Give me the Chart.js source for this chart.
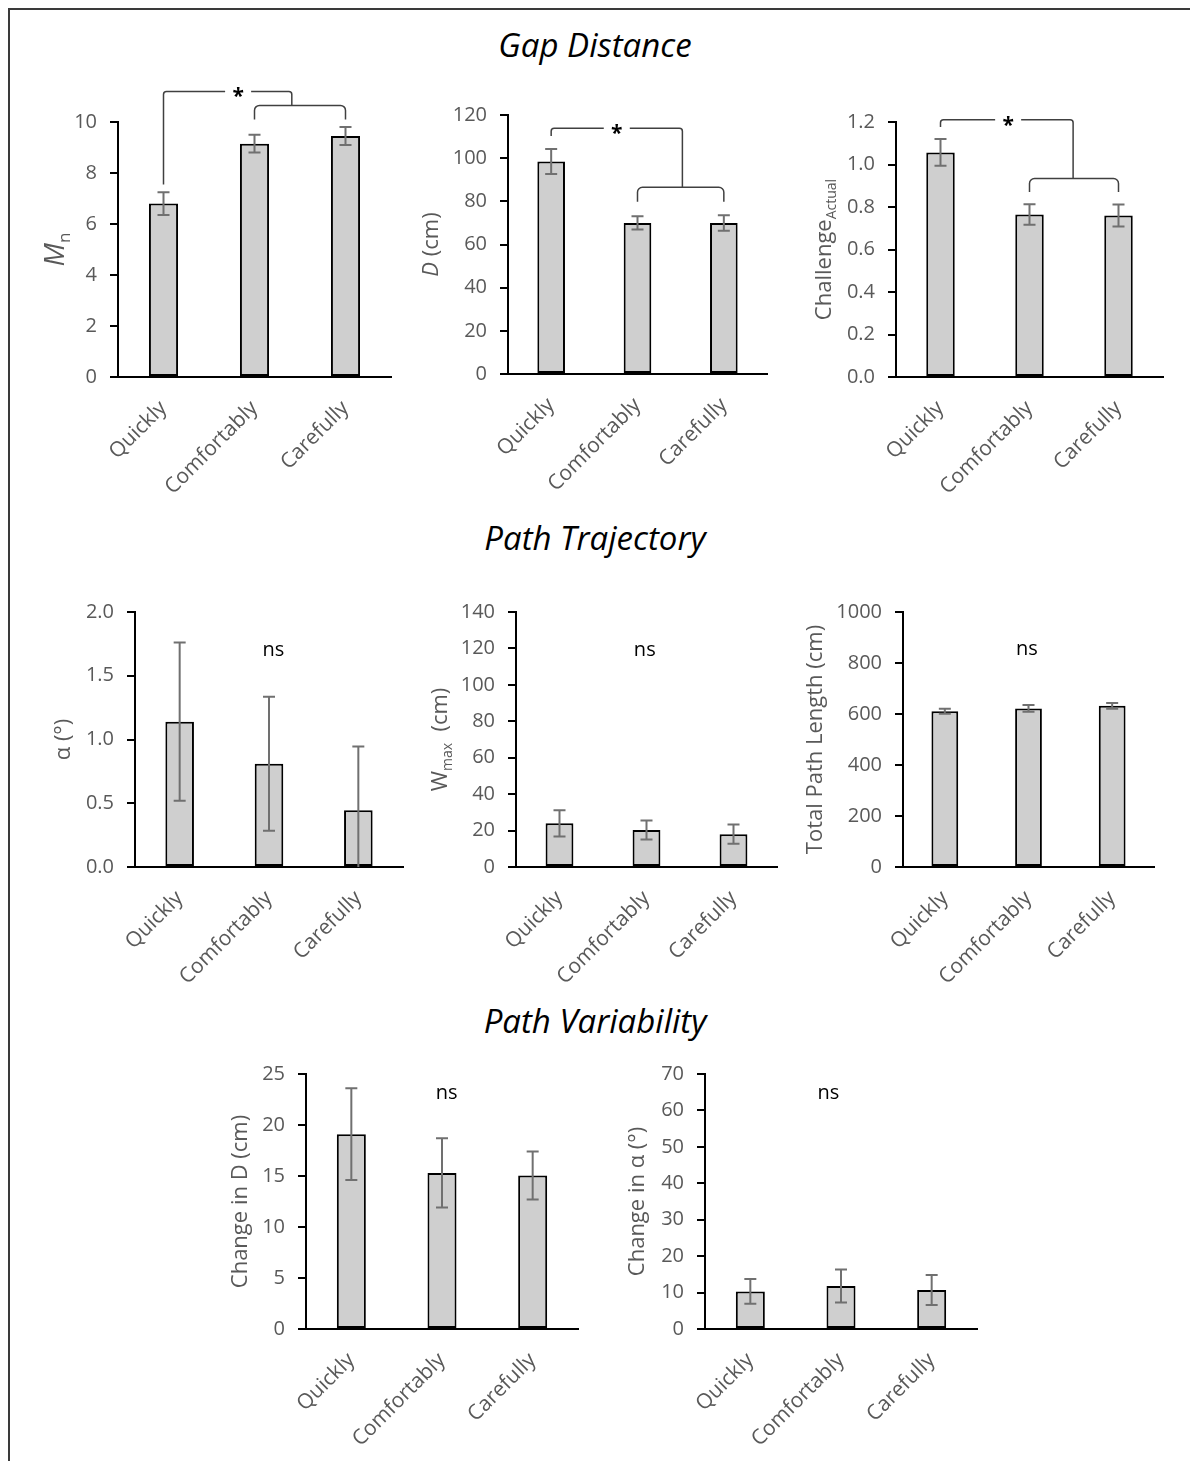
<!DOCTYPE html>
<html>
<head>
<meta charset="utf-8">
<script src="https://cdn.jsdelivr.net/npm/chart.js@4.4.1/dist/chart.umd.min.js"></script>
<style>
  body { margin: 0; background: #fff; }
  #fig { position: relative; width: 1190px; height: 1461px; overflow: hidden; background: #fff; }
  .frame { position: absolute; left: 8px; top: 8px; right: -4px; bottom: -4px;
           border-top: 2px solid #3a3a3a; border-left: 2px solid #3a3a3a; }
  .sec { position: absolute; left: 0; width: 1190px; text-align: center;
         font: italic 33px "Open Sans", sans-serif; color: #000; line-height: 1; }
  canvas { position: absolute; }
</style>
</head>
<body>
<div id="fig">
  <div class="frame"></div>
  <div class="sec" style="top:28px">Gap Distance</div>
  <div class="sec" style="top:521px">Path Trajectory</div>
  <div class="sec" style="top:1004px">Path Variability</div>
</div>
<script>
// categories shared by every panel
const categories = ['Quickly', 'Comfortably', 'Carefully'];

// Gap Distance
const mnMean = [6.8, 9.15, 9.45];
const mnErr = [0.45, 0.35, 0.35];
const dMean = [98.5, 70, 70];
const dErr = [5.8, 3.1, 3.6];
const challengeMean = [1.057, 0.765, 0.76];
const challengeErr = [0.063, 0.048, 0.052];

// Path Trajectory
const alphaMean = [1.14, 0.81, 0.445];
const alphaErr = [0.62, 0.525, 0.5];
const wmaxMean = [24, 20.3, 18];
const wmaxErr = [7.2, 5.2, 5.3];
const pathMean = [611, 622, 632];
const pathErr = [10, 13, 11];

// Path Variability
const changeDMean = [19.1, 15.3, 15.05];
const changeDErr = [4.5, 3.4, 2.35];
const changeAlphaMean = [10.3, 11.8, 10.7];
const changeAlphaErr = [3.4, 4.5, 4.1];

// y axis ranges: [max, step, decimals]
const mnTicks = [10, 2, 0];
const dTicks = [120, 20, 0];
const challengeTicks = [1.2, 0.2, 1];
const alphaTicks = [2.0, 0.5, 1];
const wmaxTicks = [140, 20, 0];
const pathTicks = [1000, 200, 0];
const changeDTicks = [25, 5, 0];
const changeAlphaTicks = [70, 10, 0];

// significance brackets, in category index / data units
const mnBracket = { from: 0, legLow: 7.55, level: 11.2, join: 1.41, star: 0.82, subLevel: 10.65, subLow: 10.1 };
const dBracket = { from: 0, legLow: 110.3, level: 113.9, join: 1.52, star: 0.76, subLevel: 86.5, subLow: 79.8 };
const challengeBracket = { from: 0, legLow: 1.176, level: 1.211, join: 1.49, star: 0.76, subLevel: 0.934, subLow: 0.871 };

const FONT = '"Open Sans", sans-serif';
const GREY = '#595959';
const PADL = 130, PADT = 70, PADR = 20, PADB = 140;

const panels = [
  { box: [118, 122, 273, 255], mean: mnMean, err: mnErr, ticks: mnTicks, tOff: 62, tSize: 28,
    title: [['M', 'i'], ['n', 's']], bracket: mnBracket },
  { box: [508, 115, 259, 259], mean: dMean, err: dErr, ticks: dTicks, tOff: 76,
    title: [['D', 'i'], [' (cm)', '']], bracket: dBracket },
  { box: [896, 122, 267, 255], mean: challengeMean, err: challengeErr, ticks: challengeTicks, tOff: 71,
    title: [['Challenge', ''], ['Actual', 's']], bracket: challengeBracket },
  { box: [135, 612, 268, 255], mean: alphaMean, err: alphaErr, ticks: alphaTicks, tOff: 71,
    title: [['\u03b1 (\u00b0)', '']], ns: [1.05, 1.7] },
  { box: [516, 612, 261, 255], mean: wmaxMean, err: wmaxErr, ticks: wmaxTicks, tOff: 75,
    title: [['W', ''], ['max', 's'], ['  (cm)', '']], ns: [0.98, 119] },
  { box: [903, 612, 251, 255], mean: pathMean, err: pathErr, ticks: pathTicks, tOff: 87,
    title: [['Total Path Length (cm)', '']], ns: [0.98, 852] },
  { box: [306, 1074, 272, 255], mean: changeDMean, err: changeDErr, ticks: changeDTicks, tOff: 65,
    title: [['Change in D (cm)', '']], ns: [1.05, 23.1] },
  { box: [705, 1074, 272, 255], mean: changeAlphaMean, err: changeAlphaErr, ticks: changeAlphaTicks, tOff: 67,
    title: [['Change in \u03b1 (\u00b0)', '']], ns: [0.86, 64.8] }
];

function drawTitle(ctx, segs, x, y, size) {
  ctx.save();
  ctx.translate(x, y);
  ctx.rotate(-Math.PI / 2);
  ctx.fillStyle = GREY;
  ctx.textBaseline = 'middle';
  ctx.textAlign = 'left';
  const fontOf = s => (s[1] === 'i' ? 'italic ' : '') + (s[1] === 's' ? Math.round(size * 0.62) : size) + 'px ' + FONT;
  let total = 0;
  segs.forEach(s => { ctx.font = fontOf(s); total += ctx.measureText(s[0]).width; });
  let cx = -total / 2;
  segs.forEach(s => {
    ctx.font = fontOf(s);
    ctx.fillText(s[0], cx, s[1] === 's' ? size * 0.32 : 0);
    cx += ctx.measureText(s[0]).width;
  });
  ctx.restore();
}

function drawBracket(ctx, xs, ys, b) {
  const r = 3;
  const x0 = xs.getPixelForValue(b.from);
  const xj = xs.getPixelForValue(b.join);
  const xa = xs.getPixelForValue(1);
  const xb = xs.getPixelForValue(2);
  const xStar = xs.getPixelForValue(b.star);
  const yLow = ys.getPixelForValue(b.legLow);
  const yLev = ys.getPixelForValue(b.level);
  const ySub = ys.getPixelForValue(b.subLevel);
  const ySubLow = ys.getPixelForValue(b.subLow);
  ctx.save();
  ctx.strokeStyle = '#404040';
  ctx.lineWidth = 1.5;
  ctx.beginPath();
  ctx.moveTo(x0, yLow);
  ctx.arcTo(x0, yLev, x0 + 10, yLev, r);
  ctx.lineTo(xStar - 13, yLev);
  ctx.moveTo(xStar + 13, yLev);
  ctx.arcTo(xj, yLev, xj, yLev + 10, r);
  ctx.lineTo(xj, ySub);
  ctx.moveTo(xa, ySubLow);
  ctx.arcTo(xa, ySub, xa + 10, ySub, r + 2);
  ctx.arcTo(xb, ySub, xb, ySub + 10, r + 2);
  ctx.lineTo(xb, ySubLow);
  ctx.stroke();
  ctx.fillStyle = '#000';
  ctx.font = 'bold 21px ' + FONT;
  ctx.textAlign = 'center';
  ctx.textBaseline = 'alphabetic';
  ctx.fillText('*', xStar, yLev + 12);
  ctx.restore();
}

function makeAnnot(p) {
  return {
    id: 'annot',
    afterDatasetsDraw(chart) {
      const { ctx, chartArea } = chart;
      const ys = chart.scales.y;
      const meta = chart.getDatasetMeta(0);
      ctx.save();
      ctx.beginPath();
      ctx.rect(chartArea.left, chartArea.top - 20, chartArea.width + 10, chartArea.height + 20);
      ctx.clip();
      ctx.strokeStyle = '#707070';
      ctx.lineWidth = 2;
      meta.data.forEach((bar, i) => {
        const hi = ys.getPixelForValue(p.mean[i] + p.err[i]);
        const lo = ys.getPixelForValue(p.mean[i] - p.err[i]);
        ctx.beginPath();
        ctx.moveTo(bar.x, hi); ctx.lineTo(bar.x, lo);
        ctx.moveTo(bar.x - 6, hi); ctx.lineTo(bar.x + 6, hi);
        ctx.moveTo(bar.x - 6, lo); ctx.lineTo(bar.x + 6, lo);
        ctx.stroke();
      });
      ctx.restore();
    },
    afterDraw(chart) {
      const { ctx, chartArea } = chart;
      const xs = chart.scales.x, ys = chart.scales.y;
      drawTitle(ctx, p.title, chartArea.left - p.tOff, (chartArea.top + chartArea.bottom) / 2, p.tSize || 22);
      if (p.bracket) drawBracket(ctx, xs, ys, p.bracket);
      if (p.ns) {
        ctx.save();
        ctx.fillStyle = '#000';
        ctx.font = '20px ' + FONT;
        ctx.textAlign = 'center';
        ctx.textBaseline = 'middle';
        ctx.fillText('ns', xs.getPixelForValue(p.ns[0]), ys.getPixelForValue(p.ns[1]));
        ctx.restore();
      }
    }
  };
}

const fig = document.getElementById('fig');
panels.forEach(p => {
  const [L, T, W, H] = p.box;
  const cv = document.createElement('canvas');
  cv.width = W + PADL + PADR;
  cv.height = H + PADT + PADB;
  cv.style.left = (L - PADL) + 'px';
  cv.style.top = (T - PADT) + 'px';
  fig.appendChild(cv);
  const [yMax, yStep, dec] = p.ticks;
  new Chart(cv.getContext('2d'), {
    type: 'bar',
    data: {
      labels: categories,
      datasets: [{
        data: p.mean,
        backgroundColor: '#cfcfcf',
        borderColor: '#000',
        borderWidth: 2,
        borderSkipped: false,
        barPercentage: 0.32,
        categoryPercentage: 1
      }]
    },
    options: {
      responsive: false,
      animation: false,
      events: [],
      layout: { padding: { left: 0, top: PADT, right: PADR, bottom: 0 } },
      plugins: { legend: { display: false }, tooltip: { enabled: false } },
      scales: {
        x: {
          offset: true,
          grid: { display: false },
          border: { display: true, color: '#000', width: 2 },
          ticks: { color: GREY, font: { family: FONT, size: 21 }, maxRotation: 45, minRotation: 45, padding: 11 },
          afterFit: s => { s.height = PADB; }
        },
        y: {
          min: 0,
          max: yMax,
          grid: { drawOnChartArea: false, drawTicks: true, tickLength: 8, color: '#000', lineWidth: 2 },
          border: { display: true, color: '#000', width: 2 },
          ticks: { stepSize: yStep, color: GREY, font: { family: FONT, size: 20 }, padding: 13,
                   callback: v => Number(v).toFixed(dec) },
          afterFit: s => { s.width = PADL; }
        }
      }
    },
    plugins: [makeAnnot(p)]
  });
});
</script>
</body>
</html>
